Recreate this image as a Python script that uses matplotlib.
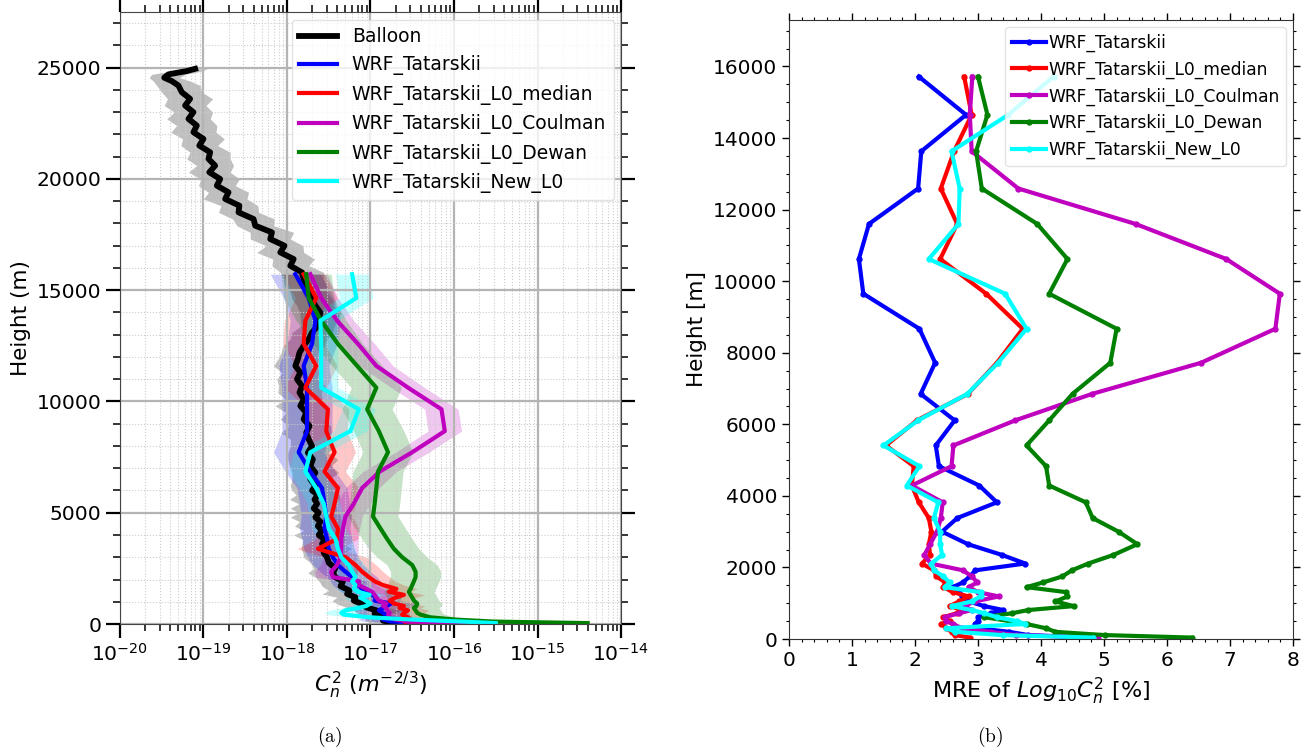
import numpy as np
import matplotlib
matplotlib.use('Agg')
from matplotlib import pyplot as plt
from matplotlib.ticker import LogLocator, MultipleLocator, NullFormatter

# ---- balloon profile (left panel): height [m], log10(Cn2), band half-width [decades]
balloon_h = [30, 150, 300, 450, 600, 750, 900, 1050, 1200, 1350, 1500, 1700, 1900, 2100,
             2300, 2500, 2750, 3000, 3200, 3400, 3600, 3800, 4000, 4200, 4400, 4600, 4800,
             5000, 5200, 5400, 5600, 5800, 6000, 6200, 6500, 6800, 7100, 7400, 7700, 8000,
             8300, 8600, 8900, 9200, 9500, 9800, 10100, 10400, 10700, 11000, 11300, 11600,
             11900, 12200, 12500, 12800, 13100, 13400, 13700, 14000, 14300, 14600, 14900,
             15200, 15500, 15800, 16100, 16400, 16700, 17000, 17300, 17600, 17900, 18200,
             18500, 18800, 19100, 19400, 19700, 20000, 20300, 20600, 20900, 21200, 21500,
             21800, 22100, 22400, 22700, 23000, 23300, 23600, 23900, 24200, 24400, 24550,
             24700, 24850, 24950]
balloon_logc = [-16.70, -16.85, -16.80, -16.95, -16.92, -17.05, -17.10, -17.20, -17.18, -17.28,
                -17.25, -17.36, -17.33, -17.42, -17.45, -17.42, -17.50, -17.52, -17.56, -17.53,
                -17.58, -17.55, -17.62, -17.58, -17.63, -17.60, -17.66, -17.62, -17.68, -17.64,
                -17.67, -17.63, -17.70, -17.66, -17.72, -17.66, -17.72, -17.69, -17.75, -17.70,
                -17.74, -17.77, -17.73, -17.80, -17.77, -17.84, -17.80, -17.85, -17.82, -17.88,
                -17.84, -17.90, -17.87, -17.85, -17.80, -17.74, -17.70, -17.63, -17.62, -17.60,
                -17.66, -17.70, -17.74, -17.78, -17.80, -17.82, -17.96, -17.92, -18.08, -18.03,
                -18.20, -18.18, -18.38, -18.40, -18.58, -18.57, -18.74, -18.70, -18.84, -18.80,
                -18.93, -18.86, -18.94, -18.92, -19.05, -19.00, -19.12, -19.08, -19.18, -19.12,
                -19.22, -19.16, -19.26, -19.30, -19.38, -19.47, -19.42, -19.20, -19.10]
balloon_spread = [0.20, 0.22, 0.25, 0.20, 0.28, 0.24, 0.30, 0.26, 0.22, 0.30, 0.25, 0.22, 0.28,
                  0.24, 0.30, 0.26, 0.22, 0.28, 0.25, 0.30, 0.24, 0.26, 0.30, 0.22, 0.28, 0.25,
                  0.30, 0.24, 0.28, 0.22, 0.30, 0.26, 0.24, 0.30, 0.22, 0.28, 0.25, 0.30, 0.24,
                  0.26, 0.22, 0.30, 0.25, 0.28, 0.24, 0.30, 0.22, 0.26, 0.28, 0.24, 0.22, 0.26,
                  0.24, 0.22, 0.25, 0.22, 0.24, 0.20, 0.22, 0.25, 0.22, 0.24, 0.22, 0.25, 0.24,
                  0.26, 0.22, 0.25, 0.28, 0.22, 0.24, 0.26, 0.22, 0.25, 0.24, 0.22, 0.26, 0.24,
                  0.22, 0.23, 0.25, 0.22, 0.26, 0.24, 0.22, 0.25, 0.27, 0.24, 0.26, 0.23, 0.25,
                  0.27, 0.24, 0.26, 0.22, 0.18, 0.20, 0.18, 0.15]

# ---- WRF model levels [m]
levels = [40, 110, 200, 300, 420, 500, 610, 720, 810, 920, 1050, 1190, 1310, 1450, 1580,
          1750, 1920, 2110, 2350, 2650, 3000, 3380, 3820, 4290, 4830, 5410, 6110, 6850,
          7720, 8670, 9650, 10620, 11600, 12590, 13630, 14650, 15720]

# log10(Cn2) of each WRF scheme (left panel)
logc_tat = [-16.10, -16.75, -16.85, -16.80, -16.82, -16.85, -16.90, -16.85, -16.80, -16.75,
            -16.95, -16.93, -16.98, -17.05, -17.10, -17.15, -17.18, -17.22, -17.30, -17.39,
            -17.45, -17.50, -17.52, -17.55, -17.53, -17.55, -17.58, -17.72, -17.86, -17.76,
            -17.76, -17.76, -17.80, -17.70, -17.66, -17.74, -17.90]
logc_med = [-15.90, -16.60, -16.52, -16.55, -16.62, -16.60, -16.55, -16.65, -16.60, -16.72,
            -16.77, -16.70, -16.60, -16.78, -16.69, -16.85, -16.95, -17.02, -17.10, -17.18,
            -17.30, -17.63, -17.40, -17.39, -17.47, -17.43, -17.39, -17.55, -17.43, -17.53,
            -17.51, -17.78, -17.65, -17.80, -17.78, -17.65, -17.80]
logc_coul = [-15.70, -16.55, -16.70, -16.77, -16.79, -16.77, -16.80, -16.81, -16.85, -16.81,
             -16.90, -16.93, -16.95, -16.98, -17.05, -17.14, -17.14, -17.45, -17.47, -17.40,
             -17.36, -17.35, -17.35, -17.33, -17.30, -17.20, -17.10, -16.89, -16.50, -16.11,
             -16.15, -16.55, -16.93, -17.15, -17.40, -17.59, -17.72]
logc_dewan = [-14.40, -15.53, -15.99, -16.28, -16.40, -16.44, -16.46, -16.48, -16.45, -16.44,
              -16.48, -16.50, -16.52, -16.54, -16.52, -16.50, -16.48, -16.46, -16.46, -16.50,
              -16.62, -16.72, -16.80, -16.88, -16.97, -16.95, -16.93, -16.91, -16.79, -16.90,
              -17.04, -16.93, -17.16, -17.39, -17.59, -17.74, -17.77]
logc_new = [-15.50, -15.90, -16.50, -17.00, -17.32, -17.35, -17.30, -17.15, -17.05, -17.00,
            -17.06, -17.12, -17.01, -17.15, -17.20, -17.18, -17.22, -17.18, -17.22, -17.26,
            -17.35, -17.39, -17.42, -17.50, -17.53, -17.56, -17.65, -17.78, -17.72, -17.24,
            -17.14, -17.59, -17.59, -17.59, -17.60, -17.17, -17.22]

# MRE of log10(Cn2) in % (right panel)
mre_tat = [4.80, 3.80, 3.50, 3.00, 2.95, 3.00, 3.00, 3.20, 3.40, 3.10, 2.85, 2.75, 2.70, 2.60,
           2.76, 2.87, 2.96, 3.75, 3.38, 2.84, 2.43, 2.67, 3.30, 3.02, 2.38, 2.33, 2.63, 2.09,
           2.32, 2.07, 1.18, 1.11, 1.27, 2.05, 2.10, 2.81, 2.06]
mre_med = [2.87, 2.64, 2.58, 2.50, 2.42, 2.55, 2.45, 2.66, 2.75, 2.55, 2.70, 2.85, 2.60, 2.45,
           2.48, 2.34, 2.30, 2.11, 2.24, 2.22, 2.26, 2.22, 2.06, 1.95, 1.98, 1.54, 2.03, 2.84,
           3.30, 3.71, 3.13, 2.40, 2.67, 2.41, 2.62, 2.90, 2.78]
mre_coul = [4.90, 3.60, 3.20, 2.75, 2.60, 2.50, 2.47, 2.70, 2.90, 2.78, 2.95, 3.33, 3.00, 2.85,
            2.99, 2.90, 2.76, 2.25, 2.15, 2.24, 2.35, 2.41, 2.44, 1.95, 2.58, 2.61, 3.59, 4.81,
            6.54, 7.72, 7.79, 6.94, 5.50, 3.64, 2.90, 2.87, 2.91]
mre_dewan = [6.40, 5.01, 4.23, 4.08, 3.77, 3.50, 3.10, 3.54, 3.80, 4.52, 4.23, 4.42, 4.40, 3.77,
             4.03, 4.34, 4.49, 4.75, 5.15, 5.53, 5.23, 4.82, 4.71, 4.13, 4.08, 3.77, 4.13, 4.50,
             5.10, 5.20, 4.13, 4.42, 3.94, 3.06, 2.97, 3.15, 3.00]
mre_new = [4.83, 3.39, 2.64, 2.50, 3.74, 3.62, 3.30, 3.10, 2.90, 2.58, 2.90, 3.04, 3.04, 2.47,
           2.55, 2.45, 2.30, 2.26, 2.43, 2.40, 2.40, 2.30, 2.37, 1.87, 2.07, 1.50, 2.05, 2.83,
           3.32, 3.77, 3.43, 2.22, 2.69, 2.71, 2.58, 3.48, 4.20]

names = ['WRF_Tatarskii', 'WRF_Tatarskii_L0_median', 'WRF_Tatarskii_L0_Coulman',
         'WRF_Tatarskii_L0_Dewan', 'WRF_Tatarskii_New_L0']
colors = ['b', 'r', 'm', 'g', 'cyan']
band_width = [0.30, 0.25, 0.20, 0.30, 0.20]   # decades, shaded model spread

fig = plt.figure(figsize=(13.11, 7.54), dpi=100)
ax1 = fig.add_axes([0.0915, 0.1724, 0.3822, 0.8116])
ax2 = fig.add_axes([0.6018, 0.1525, 0.3845, 0.8210])

# ---------------- (a) ----------------
bh = np.array(balloon_h)
bl = np.array(balloon_logc)
bs = np.array(balloon_spread)
ax1.fill_betweenx(bh, 10**(bl - bs), 10**(bl + bs), color='gray', alpha=0.5, lw=0)
ax1.plot(10**bl, bh, color='k', lw=4.2, label='Balloon')

for logc, name, c, w in zip([logc_tat, logc_med, logc_coul, logc_dewan, logc_new],
                            names, colors, band_width):
    lc = np.array(logc)
    ax1.fill_betweenx(levels, 10**(lc - w), 10**(lc + w), color=c, alpha=0.22, lw=0)
    ax1.plot(10**lc, levels, color=c, lw=3, label=name)

ax1.set_xscale('log')
ax1.set_xlim(1e-20, 1e-14)
ax1.set_ylim(0, 27500)
ax1.xaxis.set_major_locator(LogLocator(base=10, numticks=10))
ax1.xaxis.set_minor_locator(LogLocator(base=10, subs=np.arange(2, 10), numticks=20))
ax1.xaxis.set_minor_formatter(NullFormatter())
ax1.yaxis.set_major_locator(MultipleLocator(5000))
ax1.yaxis.set_minor_locator(MultipleLocator(1000))
ax1.grid(which='major', color='#b4b4b4', lw=1.6)
ax1.grid(which='minor', color='#cccccc', lw=0.8, ls=':')
ax1.tick_params(which='major', direction='out', length=10, width=1.6, top=True, right=True,
                labelsize=14.6)
ax1.tick_params(which='minor', direction='out', length=5, width=1.1, top=True, right=True)
for s in ax1.spines.values():
    s.set_color('#444444')
ax1.set_xlabel(r'$C_n^2$ $(m^{-2/3})$', fontsize=16)
ax1.set_ylabel('Height (m)', fontsize=15.5)
ax1.legend(loc='upper right', fontsize=13.5, framealpha=0.8, edgecolor='#dddddd',
           handlelength=2.0, bbox_to_anchor=(1.0, 1.0), borderaxespad=0.4)

# ---------------- (b) ----------------
for mre, name, c in zip([mre_tat, mre_med, mre_coul, mre_dewan, mre_new], names, colors):
    ax2.plot(mre, levels, '-o', color=c, lw=3, ms=3.5, label=name)

ax2.set_xlim(0, 8)
ax2.set_ylim(0, 17300)
ax2.xaxis.set_major_locator(MultipleLocator(1))
ax2.xaxis.set_minor_locator(MultipleLocator(0.2))
ax2.yaxis.set_major_locator(MultipleLocator(2000))
ax2.yaxis.set_minor_locator(MultipleLocator(500))
ax2.tick_params(which='major', direction='out', length=5, width=1, top=True, right=True,
                labelsize=14.5)
ax2.tick_params(which='minor', direction='out', length=2.5, width=0.8, top=True, right=True)
for s in ax2.spines.values():
    s.set_color('#333333')
ax2.set_xlabel(r'MRE of $Log_{10}C_n^2$ [%]', fontsize=16)
ax2.set_ylabel('Height [m]', fontsize=15.5)
ax2.legend(loc='upper right', fontsize=12.3, framealpha=0.8, edgecolor='#dddddd',
           handlelength=2.0, handletextpad=0.1, borderaxespad=0.4)

fig.text(0.251, 0.0225, r'$\mathrm{(a)}$', fontsize=14, math_fontfamily='cm',
         ha='center', va='center')
fig.text(0.755, 0.0225, r'$\mathrm{(b)}$', fontsize=14, math_fontfamily='cm',
         ha='center', va='center')

fig.savefig('out.png', dpi=100)
